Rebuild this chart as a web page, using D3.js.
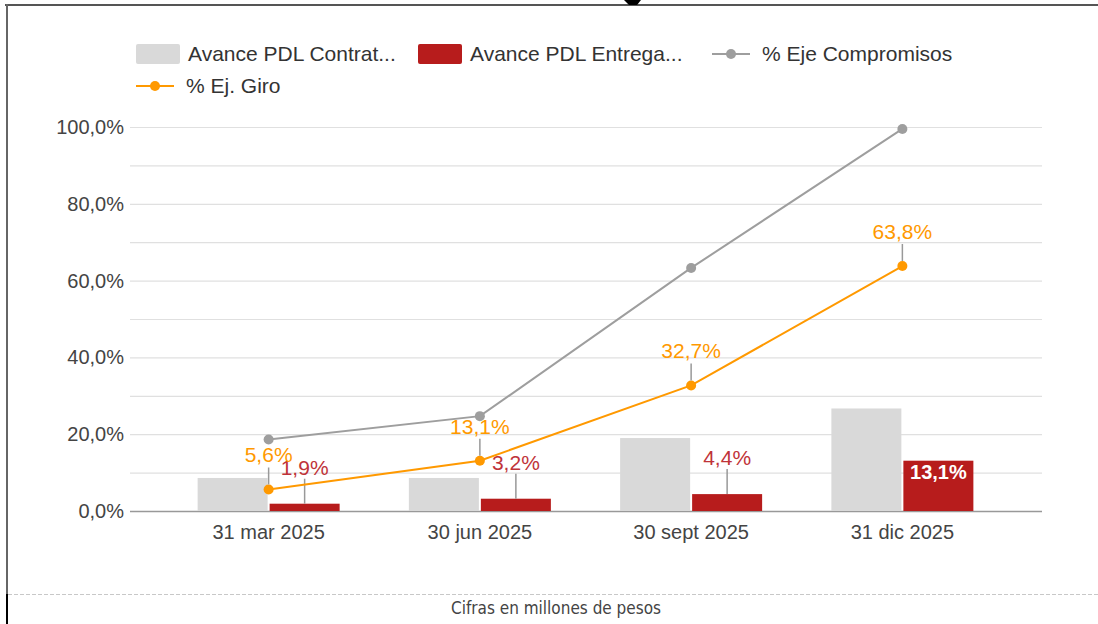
<!DOCTYPE html>
<html>
    <head>
        <meta charset="utf-8" />
        <title>Avance PDL</title>
        <script src="https://d3js.org/d3.v7.min.js"></script>
        <style>
            body { margin: 0; background: #fff; }
            svg { display: block; font-family: Arial, 'Liberation Sans', sans-serif; }
        </style>
    </head>
    <body>
        <svg width="1098" height="624"></svg>
        <script>
            // datos
            const categories = ['31 mar 2025', '30 jun 2025', '30 sept 2025', '31 dic 2025']
            const contratado = [8.6, 8.6, 19.0, 26.7]
            const entregado = [1.9, 3.2, 4.4, 13.1]
            const ejeCompromisos = [18.6, 24.7, 63.3, 99.5]
            const ejGiro = [5.6, 13.1, 32.7, 63.8]
            const yTicks = [0, 20, 40, 60, 80, 100]
            const gridValues = [0, 10, 20, 30, 40, 50, 60, 70, 80, 90, 100]
            const seriesNames = ['Avance PDL Contrat...', 'Avance PDL Entrega...', '% Eje Compromisos', '% Ej. Giro']

            const gris = '#d9d9d9'
            const rojo = '#b71c1c'
            const rojoTxt = '#bf3339'
            const naranja = '#ff9900'
            const grisLinea = '#9e9e9e'

            const locale = d3.formatLocale({ decimal: ',', thousands: '.', grouping: [3], currency: ['$', ''] })
            const fmt = (v) => locale.format('.1f')(v) + '%'

            const svg = d3.select('svg')

            // marco de la pagina
            svg.append('line').attr('x1', 5).attr('x2', 1098).attr('y1', 5).attr('y2', 5)
                .style('stroke', '#555').style('stroke-width', 2)
            svg.append('line').attr('x1', 7).attr('x2', 7).attr('y1', 4).attr('y2', 594)
                .style('stroke', '#666').style('stroke-width', 2)
            svg.append('line').attr('x1', 7).attr('x2', 7).attr('y1', 594).attr('y2', 624)
                .style('stroke', '#000').style('stroke-width', 2)
            svg.append('path').attr('d', 'M624,0 L641,0 L637,5 L629,5 Z').style('fill', '#000')
            svg.append('line').attr('x1', 8).attr('x2', 1098).attr('y1', 594.5).attr('y2', 594.5)
                .style('stroke', '#c8c8c8').style('stroke-dasharray', '4,2')
            svg.append('text').attr('x', 556).attr('y', 614).attr('text-anchor', 'middle')
                .style('font-family', "'Liberation Sans Narrow', 'DejaVu Sans Condensed', sans-serif")
                .style('font-size', '18px').style('fill', '#444')
                .attr('textLength', 210).attr('lengthAdjust', 'spacingAndGlyphs')
                .text('Cifras en millones de pesos')

            const y = d3.scaleLinear().domain([0, 100]).range([511, 127])
            const x = d3.scaleBand().domain(categories).range([163, 1008])
            const cx = (i) => x(categories[i]) + x.bandwidth() / 2

            // cuadricula
            svg.append('g').selectAll('line').data(gridValues).enter().append('line')
                .attr('x1', 130).attr('x2', 1042)
                .attr('y1', (d) => y(d) + 0.5).attr('y2', (d) => y(d) + 0.5)
                .style('stroke', (d) => (d === 0 ? '#999' : '#e0e0e0')).style('stroke-width', (d) => (d === 0 ? 1.5 : 1.2))

            // eje y
            const yAxis = svg.append('g').attr('transform', 'translate(124,0)')
                .call(d3.axisLeft(y).tickValues(yTicks).tickSize(0).tickPadding(0).tickFormat(fmt))
            yAxis.select('.domain').remove()
            yAxis.selectAll('text').style('font-size', '20px').style('fill', '#444')
                .style('font-family', "Arial, 'Liberation Sans', sans-serif")

            // eje x
            const xAxis = svg.append('g').attr('transform', 'translate(0,511)')
                .call(d3.axisBottom(x).tickSize(0).tickPadding(14))
            xAxis.select('.domain').remove()
            xAxis.selectAll('text').style('font-size', '20px').style('fill', '#444')
                .style('font-family', "Arial, 'Liberation Sans', sans-serif")

            // barras
            svg.append('g').selectAll('rect').data(contratado).enter().append('rect')
                .attr('x', (d, i) => cx(i) - 71).attr('width', 70)
                .attr('y', (d) => y(d)).attr('height', (d) => y(0) - y(d))
                .style('fill', gris)
            svg.append('g').selectAll('rect').data(entregado).enter().append('rect')
                .attr('x', (d, i) => cx(i) + 1).attr('width', 70)
                .attr('y', (d) => y(d)).attr('height', (d) => y(0) - y(d))
                .style('fill', rojo)

            // etiquetas de barras rojas
            const redLabels = svg.append('g').selectAll('g').data(entregado).enter().append('g')
            redLabels.each(function (d, i) {
                const g = d3.select(this)
                const bx = cx(i) + 36
                const top = y(d)
                if (y(0) - top > 30) {
                    g.append('text').attr('x', bx).attr('y', top + 18).attr('text-anchor', 'middle')
                        .style('font-size', '20px').style('font-weight', 'bold').style('fill', '#fff')
                        .text(fmt(d))
                } else {
                    g.append('line').attr('x1', bx).attr('x2', bx).attr('y1', top).attr('y2', top - 25)
                        .style('stroke', '#999').style('stroke-width', 1.5)
                    g.append('text').attr('x', bx).attr('y', top - 29).attr('text-anchor', 'middle')
                        .style('font-size', '21px').style('fill', rojoTxt).text(fmt(d))
                }
            })

            // lineas
            const line = d3.line().x((d, i) => cx(i)).y((d) => y(d))
            svg.append('path').datum(ejeCompromisos).attr('d', line)
                .style('fill', 'none').style('stroke', grisLinea).style('stroke-width', 2)
            svg.append('g').selectAll('circle').data(ejeCompromisos).enter().append('circle')
                .attr('cx', (d, i) => cx(i)).attr('cy', (d) => y(d)).attr('r', 5).style('fill', grisLinea)

            svg.append('path').datum(ejGiro).attr('d', line)
                .style('fill', 'none').style('stroke', naranja).style('stroke-width', 2)
            svg.append('g').selectAll('circle').data(ejGiro).enter().append('circle')
                .attr('cx', (d, i) => cx(i)).attr('cy', (d) => y(d)).attr('r', 5).style('fill', naranja)

            const orangeLabels = svg.append('g').selectAll('g').data(ejGiro).enter().append('g')
            orangeLabels.append('line')
                .attr('x1', (d, i) => cx(i)).attr('x2', (d, i) => cx(i))
                .attr('y1', (d) => y(d) - 5).attr('y2', (d) => y(d) - 22)
                .style('stroke', '#999').style('stroke-width', 1.5)
            orangeLabels.append('text')
                .attr('x', (d, i) => cx(i)).attr('y', (d) => y(d) - 27).attr('text-anchor', 'middle')
                .style('font-size', '21px').style('fill', naranja).text((d) => fmt(d))

            // leyenda
            const legend = svg.append('g')
            const legendItems = [
                { name: seriesNames[0], type: 'rect', color: gris, x: 136, y: 54 },
                { name: seriesNames[1], type: 'rect', color: rojo, x: 418, y: 54 },
                { name: seriesNames[2], type: 'line', color: grisLinea, x: 712, y: 54 },
                { name: seriesNames[3], type: 'line', color: naranja, x: 136, y: 86 },
            ]
            legendItems.forEach((it) => {
                if (it.type === 'rect') {
                    legend.append('rect').attr('x', it.x).attr('y', it.y - 10).attr('width', 44).attr('height', 20)
                        .attr('rx', 2).style('fill', it.color)
                } else {
                    legend.append('line').attr('x1', it.x).attr('x2', it.x + 38).attr('y1', it.y).attr('y2', it.y)
                        .style('stroke', it.color).style('stroke-width', 2)
                    legend.append('circle').attr('cx', it.x + 19).attr('cy', it.y).attr('r', 5).style('fill', it.color)
                }
                const tx = it.type === 'rect' ? it.x + 52 : it.x + 50
                legend.append('text').attr('x', tx).attr('y', it.y).attr('dy', '0.35em')
                    .style('font-size', '21px').style('fill', '#333').text(it.name)
            })
        </script>
    </body>
</html>
